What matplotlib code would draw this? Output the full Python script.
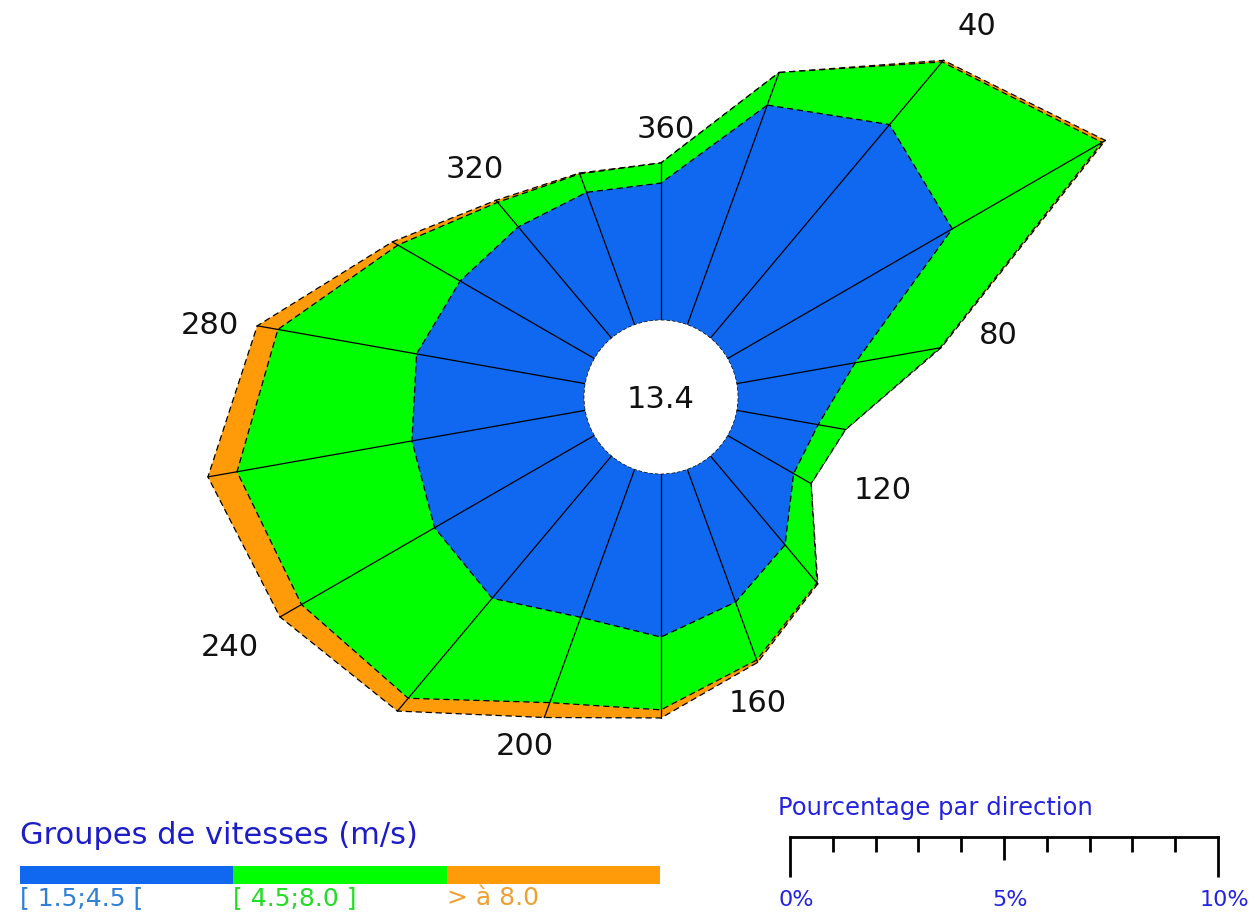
import matplotlib
matplotlib.use("Agg")
import matplotlib.pyplot as plt
from matplotlib.patches import Polygon, Circle, Rectangle
import numpy as np

# directions (degrees, clockwise from north) and percentage per speed group
directions = [20, 40, 60, 80, 100, 120, 140, 160, 180,
              200, 220, 240, 260, 280, 300, 320, 340, 360]
blue_pct = [5.46, 6.51, 6.06, 2.81, 1.93, 1.78, 2.71, 3.30, 3.81,
            3.68, 4.34, 4.31, 4.11, 4.00, 3.62, 3.39, 3.29, 3.20]
green_pct = [0.81, 1.91, 4.04, 2.01, 0.65, 0.47, 1.16, 1.44, 1.70,
             2.12, 3.05, 3.59, 4.15, 3.29, 1.68, 0.75, 0.46, 0.47]
orange_pct = [0.00, 0.05, 0.09, 0.03, 0.00, 0.00, 0.03, 0.06, 0.19,
              0.37, 0.39, 0.58, 0.69, 0.49, 0.15, 0.06, 0.02, 0.00]
calm = 13.4

group_labels = ["[ 1.5;4.5 [", "[ 4.5;8.0 ]", "> à 8.0"]
group_colors = ["#1068f0", "#00ff00", "#ff9a08"]
label_colors = ["#2f7ed8", "#22dd22", "#f0a030"]

dir_labels = [40, 80, 120, 160, 200, 240, 280, 320, 360]
# label offset from the outer vertex of its direction (pixels)
label_off = [(33, -34), (57, -12), (72, 7), (0, 41), (-20, 29),
             (-50, 31), (-47, 0), (-21, -31), (5, -33)]

scale_ticks = list(range(0, 11))
scale_labels = {0: "0%", 5: "5%", 10: "10%"}

# layout (pixels)
W, H = 1259, 914
cx, cy = 661, 397
r0 = 77          # calm circle radius
k = 42.8         # pixels per percent

fig = plt.figure(figsize=(W / 100, H / 100), dpi=100)
ax = fig.add_axes([0, 0, 1, 1])
ax.set_xlim(0, W)
ax.set_ylim(H, 0)
ax.axis("off")


def xy(d, pct):
    r = r0 + k * pct
    t = np.radians(d)
    return cx + r * np.sin(t), cy - r * np.cos(t)


cum1 = np.array(blue_pct)
cum2 = cum1 + np.array(green_pct)
cum3 = cum2 + np.array(orange_pct)

dash = (0, (5, 3))
for cum, col in zip([cum3, cum2, cum1], group_colors[::-1]):
    pts = [xy(d, p) for d, p in zip(directions, cum)]
    ax.add_patch(Polygon(pts, closed=True, facecolor=col, edgecolor="none"))
    ax.add_patch(Polygon(pts, closed=True, facecolor="none", edgecolor="black",
                         lw=0.9, linestyle=dash))

# spokes
for d, p in zip(directions, cum3):
    x0, y0 = xy(d, 0)
    x1, y1 = xy(d, p)
    ax.plot([x0, x1], [y0, y1], color="black", lw=0.9)

ax.add_patch(Circle((cx, cy), r0, facecolor="white", edgecolor="black",
                    lw=0.5, linestyle=dash, zorder=5))
ax.text(cx, cy + 2, "%.1f" % calm, fontsize=22, ha="center", va="center",
        color="#111111", zorder=6)

# direction labels
for d, (ox, oy) in zip(dir_labels, label_off):
    i = directions.index(d)
    x, y = xy(d, cum3[i])
    ax.text(x + ox, y + oy, str(d), fontsize=22,
            ha="center", va="center", color="#111111")

# speed legend
ax.text(20, 836, "Groupes de vitesses (m/s)", fontsize=22, color="#1c1cc8",
        ha="left", va="center")
seg = 640 / 3
for i in range(3):
    ax.add_patch(Rectangle((20 + i * seg, 866), seg, 18, facecolor=group_colors[i],
                           edgecolor="none"))
    ax.text(20 + i * seg, 898, group_labels[i], fontsize=18, color=label_colors[i],
            ha="left", va="center")

# percentage scale
sx0 = 790
ax.text(778, 808, "Pourcentage par direction", fontsize=17.5, color="#2323e0",
        ha="left", va="center")
ax.plot([sx0, sx0 + k * 10], [837, 837], color="black", lw=2)
for t in scale_ticks:
    x = sx0 + k * t
    if t in (0, 10):
        y1 = 877
    elif t == 5:
        y1 = 860
    else:
        y1 = 852
    ax.plot([x, x], [836, y1], color="black", lw=2, solid_capstyle="butt")
    if t in scale_labels:
        ax.text(x + 6, 900, scale_labels[t], fontsize=16, color="#2323e0",
                ha="center", va="center")

fig.savefig("out.png", dpi=100)
